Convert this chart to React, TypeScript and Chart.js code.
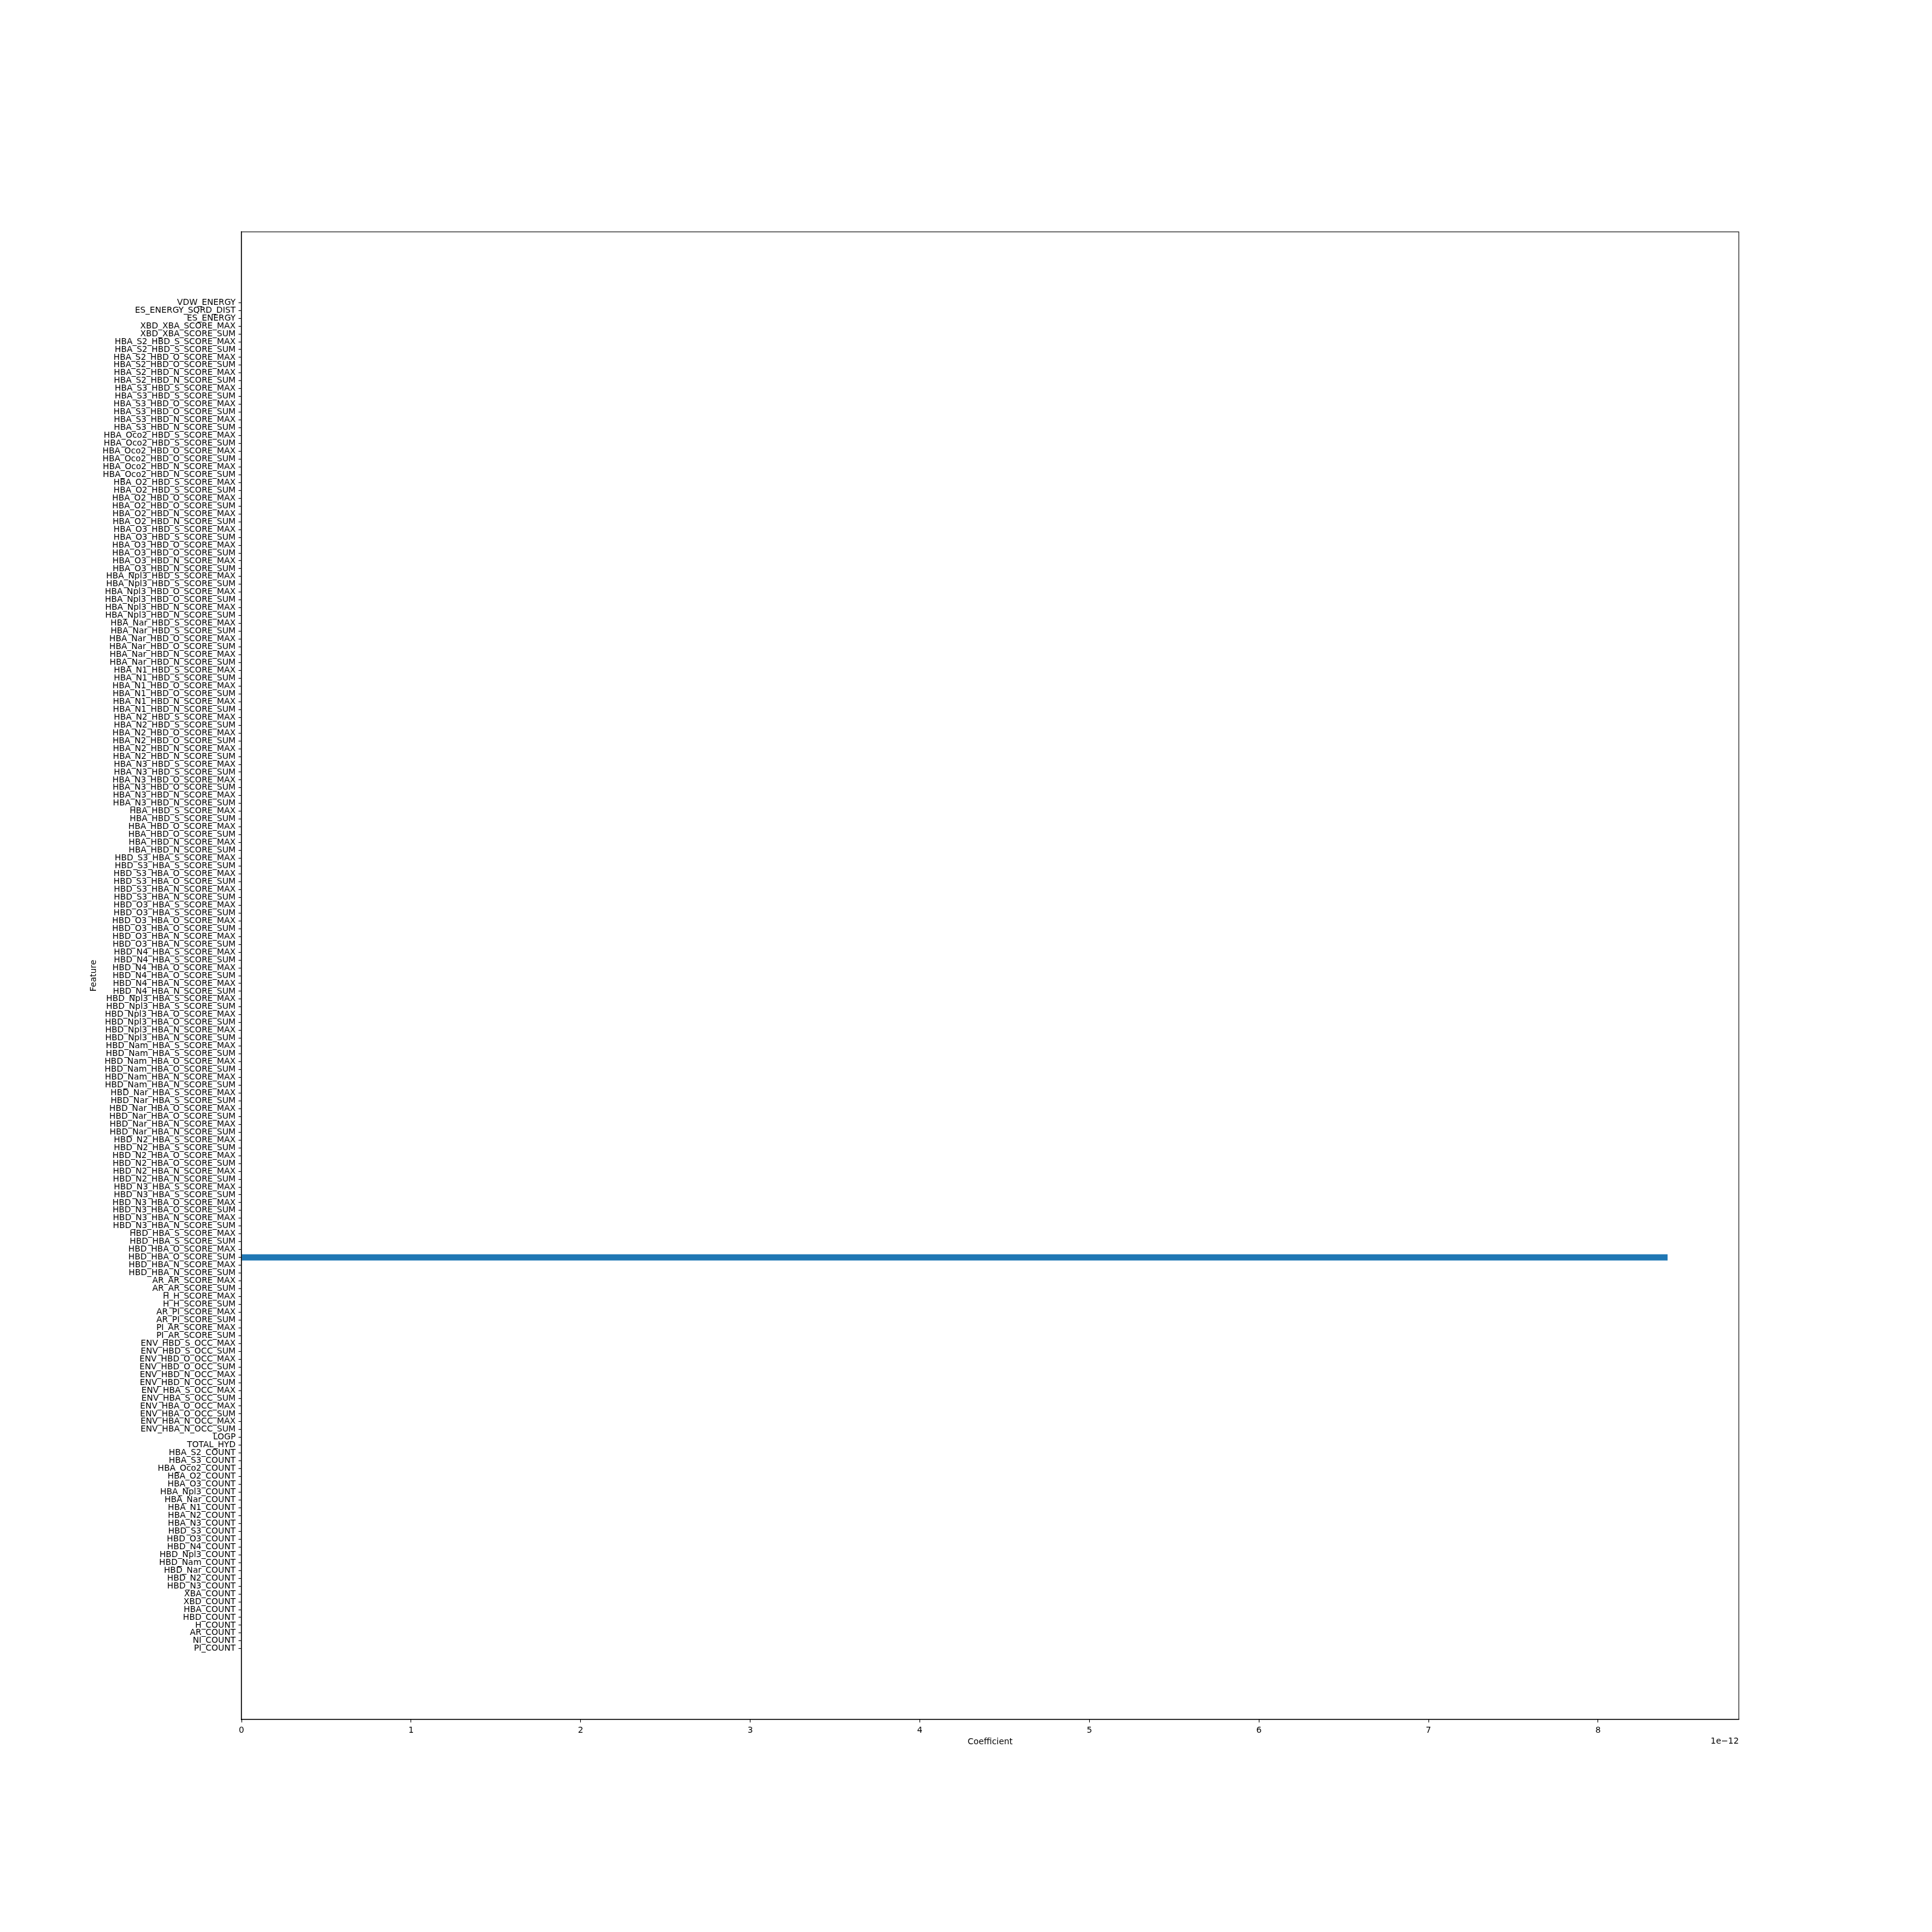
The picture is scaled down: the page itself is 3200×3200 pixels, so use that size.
import React, { useEffect, useRef } from 'react';
import { Chart, registerables } from 'chart.js';

Chart.register(...registerables);

// Feature names, listed top to bottom as they appear on the chart
const features: string[] = [
  'VDW_ENERGY', 'ES_ENERGY_SQRD_DIST', 'ES_ENERGY', 'XBD_XBA_SCORE_MAX', 'XBD_XBA_SCORE_SUM',
  'HBA_S2_HBD_S_SCORE_MAX', 'HBA_S2_HBD_S_SCORE_SUM', 'HBA_S2_HBD_O_SCORE_MAX', 'HBA_S2_HBD_O_SCORE_SUM', 'HBA_S2_HBD_N_SCORE_MAX', 'HBA_S2_HBD_N_SCORE_SUM',
  'HBA_S3_HBD_S_SCORE_MAX', 'HBA_S3_HBD_S_SCORE_SUM', 'HBA_S3_HBD_O_SCORE_MAX', 'HBA_S3_HBD_O_SCORE_SUM', 'HBA_S3_HBD_N_SCORE_MAX', 'HBA_S3_HBD_N_SCORE_SUM',
  'HBA_Oco2_HBD_S_SCORE_MAX', 'HBA_Oco2_HBD_S_SCORE_SUM', 'HBA_Oco2_HBD_O_SCORE_MAX', 'HBA_Oco2_HBD_O_SCORE_SUM', 'HBA_Oco2_HBD_N_SCORE_MAX', 'HBA_Oco2_HBD_N_SCORE_SUM',
  'HBA_O2_HBD_S_SCORE_MAX', 'HBA_O2_HBD_S_SCORE_SUM', 'HBA_O2_HBD_O_SCORE_MAX', 'HBA_O2_HBD_O_SCORE_SUM', 'HBA_O2_HBD_N_SCORE_MAX', 'HBA_O2_HBD_N_SCORE_SUM',
  'HBA_O3_HBD_S_SCORE_MAX', 'HBA_O3_HBD_S_SCORE_SUM', 'HBA_O3_HBD_O_SCORE_MAX', 'HBA_O3_HBD_O_SCORE_SUM', 'HBA_O3_HBD_N_SCORE_MAX', 'HBA_O3_HBD_N_SCORE_SUM',
  'HBA_Npl3_HBD_S_SCORE_MAX', 'HBA_Npl3_HBD_S_SCORE_SUM', 'HBA_Npl3_HBD_O_SCORE_MAX', 'HBA_Npl3_HBD_O_SCORE_SUM', 'HBA_Npl3_HBD_N_SCORE_MAX', 'HBA_Npl3_HBD_N_SCORE_SUM',
  'HBA_Nar_HBD_S_SCORE_MAX', 'HBA_Nar_HBD_S_SCORE_SUM', 'HBA_Nar_HBD_O_SCORE_MAX', 'HBA_Nar_HBD_O_SCORE_SUM', 'HBA_Nar_HBD_N_SCORE_MAX', 'HBA_Nar_HBD_N_SCORE_SUM',
  'HBA_N1_HBD_S_SCORE_MAX', 'HBA_N1_HBD_S_SCORE_SUM', 'HBA_N1_HBD_O_SCORE_MAX', 'HBA_N1_HBD_O_SCORE_SUM', 'HBA_N1_HBD_N_SCORE_MAX', 'HBA_N1_HBD_N_SCORE_SUM',
  'HBA_N2_HBD_S_SCORE_MAX', 'HBA_N2_HBD_S_SCORE_SUM', 'HBA_N2_HBD_O_SCORE_MAX', 'HBA_N2_HBD_O_SCORE_SUM', 'HBA_N2_HBD_N_SCORE_MAX', 'HBA_N2_HBD_N_SCORE_SUM',
  'HBA_N3_HBD_S_SCORE_MAX', 'HBA_N3_HBD_S_SCORE_SUM', 'HBA_N3_HBD_O_SCORE_MAX', 'HBA_N3_HBD_O_SCORE_SUM', 'HBA_N3_HBD_N_SCORE_MAX', 'HBA_N3_HBD_N_SCORE_SUM',
  'HBA_HBD_S_SCORE_MAX', 'HBA_HBD_S_SCORE_SUM', 'HBA_HBD_O_SCORE_MAX', 'HBA_HBD_O_SCORE_SUM', 'HBA_HBD_N_SCORE_MAX', 'HBA_HBD_N_SCORE_SUM',
  'HBD_S3_HBA_S_SCORE_MAX', 'HBD_S3_HBA_S_SCORE_SUM', 'HBD_S3_HBA_O_SCORE_MAX', 'HBD_S3_HBA_O_SCORE_SUM', 'HBD_S3_HBA_N_SCORE_MAX', 'HBD_S3_HBA_N_SCORE_SUM',
  'HBD_O3_HBA_S_SCORE_MAX', 'HBD_O3_HBA_S_SCORE_SUM', 'HBD_O3_HBA_O_SCORE_MAX', 'HBD_O3_HBA_O_SCORE_SUM', 'HBD_O3_HBA_N_SCORE_MAX', 'HBD_O3_HBA_N_SCORE_SUM',
  'HBD_N4_HBA_S_SCORE_MAX', 'HBD_N4_HBA_S_SCORE_SUM', 'HBD_N4_HBA_O_SCORE_MAX', 'HBD_N4_HBA_O_SCORE_SUM', 'HBD_N4_HBA_N_SCORE_MAX', 'HBD_N4_HBA_N_SCORE_SUM',
  'HBD_Npl3_HBA_S_SCORE_MAX', 'HBD_Npl3_HBA_S_SCORE_SUM', 'HBD_Npl3_HBA_O_SCORE_MAX', 'HBD_Npl3_HBA_O_SCORE_SUM', 'HBD_Npl3_HBA_N_SCORE_MAX', 'HBD_Npl3_HBA_N_SCORE_SUM',
  'HBD_Nam_HBA_S_SCORE_MAX', 'HBD_Nam_HBA_S_SCORE_SUM', 'HBD_Nam_HBA_O_SCORE_MAX', 'HBD_Nam_HBA_O_SCORE_SUM', 'HBD_Nam_HBA_N_SCORE_MAX', 'HBD_Nam_HBA_N_SCORE_SUM',
  'HBD_Nar_HBA_S_SCORE_MAX', 'HBD_Nar_HBA_S_SCORE_SUM', 'HBD_Nar_HBA_O_SCORE_MAX', 'HBD_Nar_HBA_O_SCORE_SUM', 'HBD_Nar_HBA_N_SCORE_MAX', 'HBD_Nar_HBA_N_SCORE_SUM',
  'HBD_N2_HBA_S_SCORE_MAX', 'HBD_N2_HBA_S_SCORE_SUM', 'HBD_N2_HBA_O_SCORE_MAX', 'HBD_N2_HBA_O_SCORE_SUM', 'HBD_N2_HBA_N_SCORE_MAX', 'HBD_N2_HBA_N_SCORE_SUM',
  'HBD_N3_HBA_S_SCORE_MAX', 'HBD_N3_HBA_S_SCORE_SUM', 'HBD_N3_HBA_O_SCORE_MAX', 'HBD_N3_HBA_O_SCORE_SUM', 'HBD_N3_HBA_N_SCORE_MAX', 'HBD_N3_HBA_N_SCORE_SUM',
  'HBD_HBA_S_SCORE_MAX', 'HBD_HBA_S_SCORE_SUM', 'HBD_HBA_O_SCORE_MAX', 'HBD_HBA_O_SCORE_SUM', 'HBD_HBA_N_SCORE_MAX', 'HBD_HBA_N_SCORE_SUM',
  'AR_AR_SCORE_MAX', 'AR_AR_SCORE_SUM', 'H_H_SCORE_MAX', 'H_H_SCORE_SUM', 'AR_PI_SCORE_MAX', 'AR_PI_SCORE_SUM', 'PI_AR_SCORE_MAX', 'PI_AR_SCORE_SUM',
  'ENV_HBD_S_OCC_MAX', 'ENV_HBD_S_OCC_SUM', 'ENV_HBD_O_OCC_MAX', 'ENV_HBD_O_OCC_SUM', 'ENV_HBD_N_OCC_MAX', 'ENV_HBD_N_OCC_SUM',
  'ENV_HBA_S_OCC_MAX', 'ENV_HBA_S_OCC_SUM', 'ENV_HBA_O_OCC_MAX', 'ENV_HBA_O_OCC_SUM', 'ENV_HBA_N_OCC_MAX', 'ENV_HBA_N_OCC_SUM',
  'LOGP', 'TOTAL_HYD',
  'HBA_S2_COUNT', 'HBA_S3_COUNT', 'HBA_Oco2_COUNT', 'HBA_O2_COUNT', 'HBA_O3_COUNT', 'HBA_Npl3_COUNT', 'HBA_Nar_COUNT', 'HBA_N1_COUNT', 'HBA_N2_COUNT', 'HBA_N3_COUNT',
  'HBD_S3_COUNT', 'HBD_O3_COUNT', 'HBD_N4_COUNT', 'HBD_Npl3_COUNT', 'HBD_Nam_COUNT', 'HBD_Nar_COUNT', 'HBD_N2_COUNT', 'HBD_N3_COUNT',
  'XBA_COUNT', 'XBD_COUNT', 'HBA_COUNT', 'HBD_COUNT', 'H_COUNT', 'AR_COUNT', 'NI_COUNT', 'PI_COUNT',
];

// Coefficient per feature, same order as features
const coefficients: number[] = [
  0, 0, 0, 0, 0,
  0, 0, 0, 0, 0, 0,
  0, 0, 0, 0, 0, 0,
  0, 0, 0, 0, 0, 0,
  0, 0, 0, 0, 0, 0,
  0, 0, 0, 0, 0, 0,
  0, 0, 0, 0, 0, 0,
  0, 0, 0, 0, 0, 0,
  0, 0, 0, 0, 0, 0,
  0, 0, 0, 0, 0, 0,
  0, 0, 0, 0, 0, 0,
  0, 0, 0, 0, 0, 0,
  0, 0, 0, 0, 0, 0,
  0, 0, 0, 0, 0, 0,
  0, 0, 0, 0, 0, 0,
  0, 0, 0, 0, 0, 0,
  0, 0, 0, 0, 0, 0,
  0, 0, 0, 0, 0, 0,
  0, 0, 0, 0, 0, 0,
  0, 0, 0, 0, 0, 0,
  0, 0, 0, 8.41e-12, 0, 0,
  0, 0, 0, 0, 0, 0, 0, 0,
  0, 0, 0, 0, 0, 0,
  0, 0, 0, 0, 0, 0,
  0, 0,
  0, 0, 0, 0, 0, 0, 0, 0, 0, 0,
  0, 0, 0, 0, 0, 0, 0, 0,
  0, 0, 0, 0, 0, 0, 0, 0,
];

// X tick positions in units of 1e-12 and their labels
const xTickUnits: number[] = [0, 1, 2, 3, 4, 5, 6, 7, 8];
const xTickLabels: string[] = ['0', '1', '2', '3', '4', '5', '6', '7', '8'];
const xScaleFactor = 1e-12;
const xMax = 8.83e-12;
const yPad = 9.04;

const FONT_FAMILY = '"DejaVu Sans", "Liberation Sans", sans-serif';
const FONT_SIZE = 13.9;

export default function App() {
  const canvasRef = useRef<HTMLCanvasElement | null>(null);

  useEffect(() => {
    const canvas = canvasRef.current;
    if (!canvas) return;
    const font = { family: FONT_FAMILY, size: FONT_SIZE, lineHeight: 1.2 };

    const framePlugin = {
      id: 'frameAndOffset',
      afterDraw(chart: any) {
        const { ctx, chartArea } = chart;
        ctx.save();
        ctx.strokeStyle = '#000';
        ctx.lineWidth = 1.1;
        ctx.strokeRect(chartArea.left, chartArea.top, chartArea.right - chartArea.left, chartArea.bottom - chartArea.top);
        ctx.fillStyle = '#000';
        ctx.font = `${FONT_SIZE}px ${FONT_FAMILY}`;
        ctx.textAlign = 'right';
        ctx.textBaseline = 'middle';
        ctx.fillText('1e\u221212', chartArea.right, chartArea.bottom + 36);
        ctx.restore();
      },
    };

    const chart = new Chart(canvas, {
      type: 'bar',
      data: {
        datasets: [
          {
            data: features.map((_, i) => ({ x: coefficients[i], y: i })) as any,
            backgroundColor: '#1f77b4',
            borderWidth: 0,
            categoryPercentage: 1,
            barPercentage: 0.8,
          },
        ],
      },
      options: {
        indexAxis: 'y',
        animation: false,
        responsive: false,
        maintainAspectRatio: false,
        layout: { padding: { top: 384, right: 320, bottom: 0, left: 0 } },
        plugins: { legend: { display: false }, tooltip: { enabled: false } },
        scales: {
          x: {
            type: 'linear',
            position: 'bottom',
            offset: false,
            min: 0,
            max: xMax,
            afterBuildTicks: (scale: any) => {
              scale.ticks = xTickUnits.map((u) => ({ value: u * xScaleFactor }));
            },
            afterFit: (scale: any) => {
              scale.height = 352;
            },
            ticks: {
              autoSkip: false,
              maxRotation: 0,
              padding: 4.86,
              color: '#000',
              font,
              callback: (_v: any, i: number) => xTickLabels[i],
            },
            grid: { offset: false, drawOnChartArea: false, tickLength: 4.86, tickWidth: 1.1, tickColor: '#000' },
            border: { display: true, color: '#000', width: 1.1 },
            title: { display: true, text: 'Coefficient', color: '#000', font, padding: { top: 0, bottom: 306.7 } },
          },
          y: {
            type: 'linear',
            position: 'left',
            offset: false,
            reverse: true,
            min: -yPad,
            max: features.length - 1 + yPad,
            afterBuildTicks: (scale: any) => {
              scale.ticks = features.map((_, i) => ({ value: i }));
            },
            afterFit: (scale: any) => {
              scale.width = 400;
            },
            ticks: {
              autoSkip: false,
              padding: 4.86,
              color: '#000',
              font,
              callback: (_v: any, i: number) => features[i],
            },
            grid: { offset: false, drawOnChartArea: false, tickLength: 4.86, tickWidth: 1.1, tickColor: '#000' },
            border: { display: true, color: '#000', width: 1.1 },
            title: { display: true, text: 'Feature', color: '#000', font, padding: { top: 146.7, bottom: 0 } },
          },
        },
      },
      plugins: [framePlugin],
    } as any);

    return () => chart.destroy();
  }, []);

  return (
    <div style={{ position: 'absolute', left: 0, top: 0, width: 3200, height: 3200, background: '#fff' }}>
      <canvas ref={canvasRef} width={3200} height={3200} style={{ display: 'block', width: 3200, height: 3200 }} />
    </div>
  );
}
